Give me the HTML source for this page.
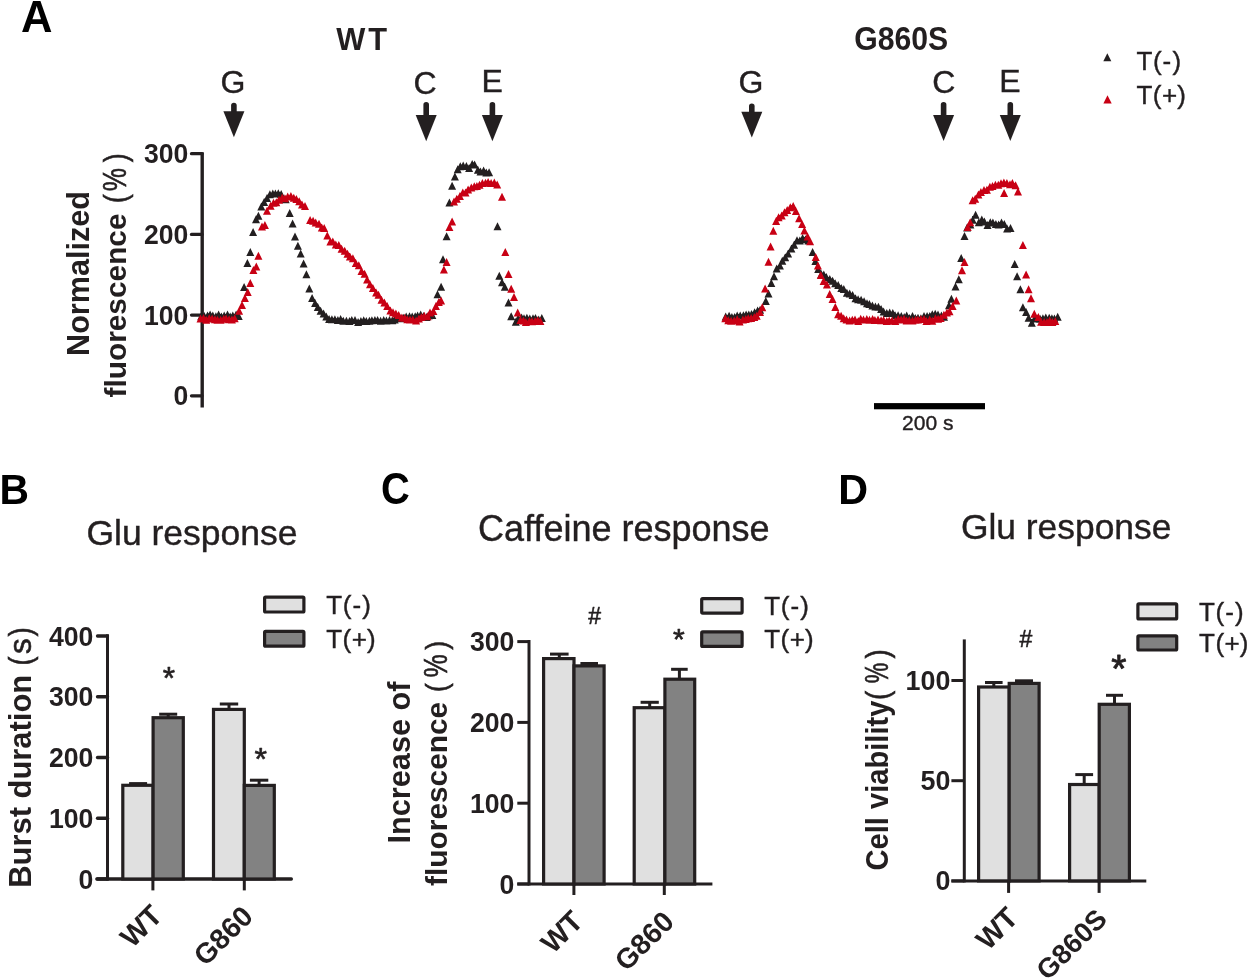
<!DOCTYPE html>
<html><head><meta charset="utf-8"><style>
html,body{margin:0;padding:0;background:#fff;}
svg{display:block;font-family:"Liberation Sans",sans-serif;will-change:transform;}
.r{stroke:#231f20;stroke-width:0.4px;}
</style></head><body>
<svg width="1250" height="980" viewBox="0 0 1250 980">
<rect width="1250" height="980" fill="#fff"/>
<text transform="translate(22.20,32.20) scale(1.000,1)" x="-1.09" y="0" font-size="43.6" font-weight="bold" fill="#000" >A</text>
<text transform="translate(336.20,49.90) scale(0.960,1)" x="-0.03" y="0" font-size="32.1" font-weight="bold" fill="#231f20" letter-spacing="3">WT</text>
<text transform="translate(855.50,50.40) scale(0.907,1)" x="-1.37" y="0" font-size="33.3" font-weight="bold" fill="#231f20" >G860S</text>
<text class="r" x="220.39" y="93.00" font-size="32" font-weight="normal" fill="#231f20" >G</text>
<path d="M231.10,112.20 L231.10,105.60 A2.80,2.80 0 0 1 236.70,105.60 L236.70,112.20 Z" fill="#231f20"/>
<path d="M223.40,111.20 L244.40,111.20 L233.90,137.30 Z" fill="#231f20"/>
<text class="r" x="413.48" y="93.60" font-size="32" font-weight="normal" fill="#231f20" >C</text>
<path d="M423.40,115.90 L423.40,104.80 A2.80,2.80 0 0 1 429.00,104.80 L429.00,115.90 Z" fill="#231f20"/>
<path d="M415.70,114.90 L436.70,114.90 L426.20,141.30 Z" fill="#231f20"/>
<text class="r" x="481.57" y="92.00" font-size="32" font-weight="normal" fill="#231f20" >E</text>
<path d="M489.60,115.90 L489.60,104.80 A2.80,2.80 0 0 1 495.20,104.80 L495.20,115.90 Z" fill="#231f20"/>
<path d="M481.90,114.90 L502.90,114.90 L492.40,141.30 Z" fill="#231f20"/>
<text class="r" x="738.39" y="93.00" font-size="32" font-weight="normal" fill="#231f20" >G</text>
<path d="M749.00,112.80 L749.00,106.30 A2.80,2.80 0 0 1 754.60,106.30 L754.60,112.80 Z" fill="#231f20"/>
<path d="M741.30,111.80 L762.30,111.80 L751.80,137.60 Z" fill="#231f20"/>
<text class="r" x="932.17" y="93.00" font-size="32" font-weight="normal" fill="#231f20" >C</text>
<path d="M940.80,115.90 L940.80,104.80 A2.80,2.80 0 0 1 946.40,104.80 L946.40,115.90 Z" fill="#231f20"/>
<path d="M933.10,114.90 L954.10,114.90 L943.60,141.00 Z" fill="#231f20"/>
<text class="r" x="999.27" y="92.00" font-size="32" font-weight="normal" fill="#231f20" >E</text>
<path d="M1007.50,115.90 L1007.50,104.80 A2.80,2.80 0 0 1 1013.10,104.80 L1013.10,115.90 Z" fill="#231f20"/>
<path d="M999.80,114.90 L1020.80,114.90 L1010.30,141.00 Z" fill="#231f20"/>
<path d="M1103.3,61.3h8l-4.0,-8.0z" fill="#231f20"/>
<path d="M1103.4,103.6h8.3l-4.2,-8.3z" fill="#c80014"/>
<text class="r" x="1136.42" y="69.80" font-size="26" font-weight="normal" fill="#231f20" dx="0 0.6 1.0 1.2">T(-)</text>
<text class="r" x="1136.42" y="103.80" font-size="26" font-weight="normal" fill="#231f20" dx="0 0.5 0.5 0">T(+)</text>
<line x1="202.2" y1="152.3" x2="202.2" y2="407.5" stroke="#231f20" stroke-width="3.4" stroke-linecap="butt"/>
<line x1="191.5" y1="395.8" x2="202" y2="395.8" stroke="#231f20" stroke-width="3.3" stroke-linecap="round"/>
<text transform="translate(187.20,405.30) scale(0.960,1)" x="1.14" y="0" font-size="27.7" font-weight="bold" fill="#231f20" text-anchor="end">0</text>
<line x1="191.5" y1="315.1" x2="202" y2="315.1" stroke="#231f20" stroke-width="3.3" stroke-linecap="round"/>
<text transform="translate(187.20,324.60) scale(0.960,1)" x="1.14" y="0" font-size="27.7" font-weight="bold" fill="#231f20" text-anchor="end">100</text>
<line x1="191.5" y1="234.4" x2="202" y2="234.4" stroke="#231f20" stroke-width="3.3" stroke-linecap="round"/>
<text transform="translate(187.20,243.90) scale(0.960,1)" x="1.14" y="0" font-size="27.7" font-weight="bold" fill="#231f20" text-anchor="end">200</text>
<line x1="191.5" y1="153.7" x2="202" y2="153.7" stroke="#231f20" stroke-width="3.3" stroke-linecap="round"/>
<text transform="translate(187.20,163.20) scale(0.960,1)" x="1.14" y="0" font-size="27.7" font-weight="bold" fill="#231f20" text-anchor="end">300</text>
<text transform="translate(88.80,273.50) rotate(-90)" x="-82.48" y="0" font-size="30.6" font-weight="bold" fill="#231f20">Normalized</text>
<text transform="translate(126.00,397.00) rotate(-90) scale(0.995,1)" x="-0.51" y="0" font-size="30.0" font-weight="bold" fill="#231f20">fluorescence</text>
<text transform="translate(126.00,201.30) rotate(-90) scale(0.860,1)" x="-1.90" y="0" font-size="30.6" font-weight="normal" fill="#231f20" stroke="#231f20" stroke-width="0.6">(</text>
<text transform="translate(126.00,190.20) rotate(-90) scale(0.770,1)" x="-1.21" y="0" font-size="34" font-weight="normal" fill="#231f20" stroke="#231f20" stroke-width="0.6">%</text>
<text transform="translate(126.00,162.10) rotate(-90) scale(0.880,1)" x="-0.18" y="0" font-size="30.6" font-weight="normal" fill="#231f20" stroke="#231f20" stroke-width="0.6">)</text>
<rect x="874" y="403.1" width="111" height="6.2" fill="#000"/>
<text class="r" x="902.04" y="429.60" font-size="21" font-weight="normal" fill="#231f20" >200 s</text>
<path d="M197.2,320.2h8l-4.0,-8.0zM200.3,320.0h8l-4.0,-8.0zM203.5,319.6h8l-4.0,-8.0zM206.1,318.5h8l-4.0,-8.0zM208.8,319.5h8l-4.0,-8.0zM211.9,320.2h8l-4.0,-8.0zM214.6,318.5h8l-4.0,-8.0zM217.4,320.5h8l-4.0,-8.0zM220.2,319.4h8l-4.0,-8.0zM223.5,318.4h8l-4.0,-8.0zM226.2,320.6h8l-4.0,-8.0zM228.8,319.6h8l-4.0,-8.0zM232.1,318.6h8l-4.0,-8.0zM234.7,320.1h8l-4.0,-8.0zM240.1,291.1h8l-4.0,-8.0zM243.4,266.9h8l-4.0,-8.0zM246.3,256.1h8l-4.0,-8.0zM249.1,236.1h8l-4.0,-8.0zM252.0,223.3h8l-4.0,-8.0zM254.4,219.7h8l-4.0,-8.0zM257.3,210.4h8l-4.0,-8.0zM260.1,206.1h8l-4.0,-8.0zM263.0,201.9h8l-4.0,-8.0zM265.9,198.3h8l-4.0,-8.0zM268.8,197.5h8l-4.0,-8.0zM271.4,197.4h8l-4.0,-8.0zM274.3,197.2h8l-4.0,-8.0zM277.2,197.9h8l-4.0,-8.0zM281.7,203.3h8l-4.0,-8.0zM285.7,216.9h8l-4.0,-8.0zM288.6,227.6h8l-4.0,-8.0zM291.0,240.4h8l-4.0,-8.0zM293.9,249.7h8l-4.0,-8.0zM296.7,257.6h8l-4.0,-8.0zM299.6,267.6h8l-4.0,-8.0zM302.4,278.3h8l-4.0,-8.0zM305.3,292.6h8l-4.0,-8.0zM308.1,301.9h8l-4.0,-8.0zM311.1,307.0h8l-4.0,-8.0zM313.8,311.0h8l-4.0,-8.0zM316.6,314.8h8l-4.0,-8.0zM319.6,317.5h8l-4.0,-8.0zM322.3,320.6h8l-4.0,-8.0zM325.1,323.0h8l-4.0,-8.0zM327.9,323.3h8l-4.0,-8.0zM330.9,323.3h8l-4.0,-8.0zM333.9,324.1h8l-4.0,-8.0zM336.6,322.9h8l-4.0,-8.0zM339.3,324.8h8l-4.0,-8.0zM342.4,324.8h8l-4.0,-8.0zM345.5,324.9h8l-4.0,-8.0zM347.8,324.1h8l-4.0,-8.0zM351.0,324.1h8l-4.0,-8.0zM354.1,325.9h8l-4.0,-8.0zM356.9,324.9h8l-4.0,-8.0zM359.7,324.2h8l-4.0,-8.0zM362.3,324.9h8l-4.0,-8.0zM365.4,324.8h8l-4.0,-8.0zM367.9,324.3h8l-4.0,-8.0zM370.9,324.0h8l-4.0,-8.0zM373.6,324.1h8l-4.0,-8.0zM376.6,324.8h8l-4.0,-8.0zM379.7,324.0h8l-4.0,-8.0zM382.4,324.4h8l-4.0,-8.0zM385.5,324.0h8l-4.0,-8.0zM388.3,324.2h8l-4.0,-8.0zM390.7,323.6h8l-4.0,-8.0zM393.7,322.2h8l-4.0,-8.0zM396.9,322.3h8l-4.0,-8.0zM399.3,321.8h8l-4.0,-8.0zM402.2,320.6h8l-4.0,-8.0zM405.5,320.3h8l-4.0,-8.0zM408.2,320.6h8l-4.0,-8.0zM411.2,320.3h8l-4.0,-8.0zM413.6,319.4h8l-4.0,-8.0zM416.7,318.6h8l-4.0,-8.0zM419.6,320.0h8l-4.0,-8.0zM422.6,320.9h8l-4.0,-8.0zM425.1,319.2h8l-4.0,-8.0zM428.3,319.1h8l-4.0,-8.0zM433.5,298.2h8l-4.0,-8.0zM437.1,290.8h8l-4.0,-8.0zM439.0,263.3h8l-4.0,-8.0zM442.6,240.3h8l-4.0,-8.0zM445.4,206.4h8l-4.0,-8.0zM448.1,189.8h8l-4.0,-8.0zM450.9,180.6h8l-4.0,-8.0zM453.7,173.3h8l-4.0,-8.0zM456.3,170.2h8l-4.0,-8.0zM459.2,169.5h8l-4.0,-8.0zM462.4,170.0h8l-4.0,-8.0zM465.1,172.0h8l-4.0,-8.0zM468.2,167.9h8l-4.0,-8.0zM470.6,168.6h8l-4.0,-8.0zM473.9,173.7h8l-4.0,-8.0zM476.5,175.6h8l-4.0,-8.0zM479.6,174.6h8l-4.0,-8.0zM482.3,176.6h8l-4.0,-8.0zM485.1,176.3h8l-4.0,-8.0zM493.5,230.2h8l-4.0,-8.0zM495.3,279.8h8l-4.0,-8.0zM498.0,286.3h8l-4.0,-8.0zM500.8,290.8h8l-4.0,-8.0zM504.5,306.5h8l-4.0,-8.0zM507.2,320.2h8l-4.0,-8.0zM511.8,325.7h8l-4.0,-8.0zM514.3,322.0h8l-4.0,-8.0zM517.6,321.4h8l-4.0,-8.0zM520.0,322.2h8l-4.0,-8.0zM522.9,321.7h8l-4.0,-8.0zM525.8,322.6h8l-4.0,-8.0zM529.0,322.3h8l-4.0,-8.0zM531.5,322.1h8l-4.0,-8.0zM534.7,323.6h8l-4.0,-8.0zM537.8,321.9h8l-4.0,-8.0z" fill="#231f20"/>
<path d="M721.7,320.6h8l-4.0,-8.0zM725.1,319.8h8l-4.0,-8.0zM727.9,320.9h8l-4.0,-8.0zM730.6,321.0h8l-4.0,-8.0zM733.2,319.6h8l-4.0,-8.0zM736.2,319.4h8l-4.0,-8.0zM739.4,319.3h8l-4.0,-8.0zM742.1,318.6h8l-4.0,-8.0zM744.8,318.6h8l-4.0,-8.0zM747.5,317.9h8l-4.0,-8.0zM750.6,316.3h8l-4.0,-8.0zM753.6,314.6h8l-4.0,-8.0zM756.1,313.7h8l-4.0,-8.0zM761.8,305.0h8l-4.0,-8.0zM764.5,297.4h8l-4.0,-8.0zM767.3,287.1h8l-4.0,-8.0zM770.0,280.2h8l-4.0,-8.0zM772.7,272.6h8l-4.0,-8.0zM775.9,269.5h8l-4.0,-8.0zM778.3,264.7h8l-4.0,-8.0zM781.2,261.3h8l-4.0,-8.0zM784.1,257.5h8l-4.0,-8.0zM787.4,252.4h8l-4.0,-8.0zM790.1,248.8h8l-4.0,-8.0zM793.0,244.2h8l-4.0,-8.0zM795.8,244.5h8l-4.0,-8.0zM798.6,241.9h8l-4.0,-8.0zM801.5,243.3h8l-4.0,-8.0zM804.4,244.6h8l-4.0,-8.0zM808.6,256.0h8l-4.0,-8.0zM811.4,265.0h8l-4.0,-8.0zM814.2,273.0h8l-4.0,-8.0zM817.3,278.1h8l-4.0,-8.0zM819.8,278.4h8l-4.0,-8.0zM822.4,281.1h8l-4.0,-8.0zM825.8,283.1h8l-4.0,-8.0zM828.6,284.8h8l-4.0,-8.0zM831.2,287.3h8l-4.0,-8.0zM834.2,289.0h8l-4.0,-8.0zM837.3,291.9h8l-4.0,-8.0zM839.8,293.0h8l-4.0,-8.0zM842.9,296.7h8l-4.0,-8.0zM845.7,297.4h8l-4.0,-8.0zM848.6,299.1h8l-4.0,-8.0zM851.5,302.2h8l-4.0,-8.0zM854.1,303.3h8l-4.0,-8.0zM857.1,303.8h8l-4.0,-8.0zM860.1,305.3h8l-4.0,-8.0zM863.0,307.3h8l-4.0,-8.0zM865.4,308.0h8l-4.0,-8.0zM868.4,309.6h8l-4.0,-8.0zM871.4,310.4h8l-4.0,-8.0zM874.4,310.8h8l-4.0,-8.0zM877.1,312.9h8l-4.0,-8.0zM879.6,315.4h8l-4.0,-8.0zM882.8,317.0h8l-4.0,-8.0zM885.7,316.5h8l-4.0,-8.0zM888.8,316.9h8l-4.0,-8.0zM891.1,319.3h8l-4.0,-8.0zM894.1,319.3h8l-4.0,-8.0zM897.3,320.0h8l-4.0,-8.0zM900.2,320.9h8l-4.0,-8.0zM902.7,319.6h8l-4.0,-8.0zM905.5,321.9h8l-4.0,-8.0zM908.5,320.1h8l-4.0,-8.0zM911.3,322.0h8l-4.0,-8.0zM914.0,321.8h8l-4.0,-8.0zM916.9,322.3h8l-4.0,-8.0zM920.0,320.0h8l-4.0,-8.0zM923.1,320.1h8l-4.0,-8.0zM925.8,319.9h8l-4.0,-8.0zM928.3,318.3h8l-4.0,-8.0zM931.2,317.8h8l-4.0,-8.0zM934.0,318.5h8l-4.0,-8.0zM937.4,319.6h8l-4.0,-8.0zM940.0,320.7h8l-4.0,-8.0zM945.0,309.3h8l-4.0,-8.0zM947.4,302.8h8l-4.0,-8.0zM951.5,290.6h8l-4.0,-8.0zM954.8,283.2h8l-4.0,-8.0zM957.2,262.0h8l-4.0,-8.0zM960.5,240.0h8l-4.0,-8.0zM963.1,231.6h8l-4.0,-8.0zM966.4,228.5h8l-4.0,-8.0zM968.7,223.8h8l-4.0,-8.0zM971.6,218.7h8l-4.0,-8.0zM974.8,226.3h8l-4.0,-8.0zM977.8,223.4h8l-4.0,-8.0zM980.4,225.4h8l-4.0,-8.0zM983.5,228.9h8l-4.0,-8.0zM986.3,226.3h8l-4.0,-8.0zM988.9,226.6h8l-4.0,-8.0zM991.9,228.1h8l-4.0,-8.0zM994.6,228.4h8l-4.0,-8.0zM997.5,226.5h8l-4.0,-8.0zM1000.3,227.9h8l-4.0,-8.0zM1003.1,232.5h8l-4.0,-8.0zM1006.5,232.1h8l-4.0,-8.0zM1010.7,267.9h8l-4.0,-8.0zM1013.1,280.2h8l-4.0,-8.0zM1016.4,293.2h8l-4.0,-8.0zM1018.9,311.2h8l-4.0,-8.0zM1022.1,316.1h8l-4.0,-8.0zM1024.6,321.8h8l-4.0,-8.0zM1027.8,326.7h8l-4.0,-8.0zM1030.8,322.0h8l-4.0,-8.0zM1033.2,322.6h8l-4.0,-8.0zM1036.1,322.7h8l-4.0,-8.0zM1038.9,322.2h8l-4.0,-8.0zM1041.8,321.4h8l-4.0,-8.0zM1045.2,321.7h8l-4.0,-8.0zM1047.9,322.2h8l-4.0,-8.0zM1050.4,322.4h8l-4.0,-8.0zM1053.7,320.7h8l-4.0,-8.0z" fill="#231f20"/>
<path d="M196.5,322.5h8l-4.0,-8.0zM199.5,321.9h8l-4.0,-8.0zM202.2,323.8h8l-4.0,-8.0zM205.2,322.2h8l-4.0,-8.0zM208.1,322.5h8l-4.0,-8.0zM211.0,323.2h8l-4.0,-8.0zM213.5,323.8h8l-4.0,-8.0zM216.7,323.8h8l-4.0,-8.0zM219.7,322.7h8l-4.0,-8.0zM222.1,322.5h8l-4.0,-8.0zM225.1,323.2h8l-4.0,-8.0zM227.9,323.4h8l-4.0,-8.0zM230.7,322.3h8l-4.0,-8.0zM235.1,314.7h8l-4.0,-8.0zM238.0,309.0h8l-4.0,-8.0zM240.9,301.9h8l-4.0,-8.0zM243.7,296.1h8l-4.0,-8.0zM246.3,286.9h8l-4.0,-8.0zM249.4,274.0h8l-4.0,-8.0zM252.3,270.4h8l-4.0,-8.0zM254.4,259.7h8l-4.0,-8.0zM258.0,230.4h8l-4.0,-8.0zM260.9,229.0h8l-4.0,-8.0zM263.0,214.7h8l-4.0,-8.0zM266.6,209.7h8l-4.0,-8.0zM269.5,206.7h8l-4.0,-8.0zM272.3,206.2h8l-4.0,-8.0zM275.0,203.8h8l-4.0,-8.0zM278.2,201.5h8l-4.0,-8.0zM280.9,202.2h8l-4.0,-8.0zM283.7,200.5h8l-4.0,-8.0zM286.9,200.1h8l-4.0,-8.0zM289.8,201.7h8l-4.0,-8.0zM292.4,202.9h8l-4.0,-8.0zM295.2,205.3h8l-4.0,-8.0zM298.0,208.6h8l-4.0,-8.0zM301.0,210.1h8l-4.0,-8.0zM306.1,223.9h8l-4.0,-8.0zM309.1,224.8h8l-4.0,-8.0zM311.7,226.4h8l-4.0,-8.0zM315.0,227.7h8l-4.0,-8.0zM317.8,231.4h8l-4.0,-8.0zM320.2,232.1h8l-4.0,-8.0zM323.3,239.4h8l-4.0,-8.0zM326.4,245.5h8l-4.0,-8.0zM328.8,245.5h8l-4.0,-8.0zM331.8,248.4h8l-4.0,-8.0zM334.8,249.1h8l-4.0,-8.0zM337.6,252.8h8l-4.0,-8.0zM340.7,254.8h8l-4.0,-8.0zM343.5,257.7h8l-4.0,-8.0zM345.9,260.4h8l-4.0,-8.0zM348.9,262.2h8l-4.0,-8.0zM351.8,266.9h8l-4.0,-8.0zM354.8,269.3h8l-4.0,-8.0zM357.5,274.9h8l-4.0,-8.0zM360.6,277.7h8l-4.0,-8.0zM363.1,283.5h8l-4.0,-8.0zM366.0,288.3h8l-4.0,-8.0zM368.9,292.0h8l-4.0,-8.0zM372.1,296.4h8l-4.0,-8.0zM374.5,298.7h8l-4.0,-8.0zM377.5,303.7h8l-4.0,-8.0zM380.4,306.5h8l-4.0,-8.0zM383.2,310.0h8l-4.0,-8.0zM386.4,314.5h8l-4.0,-8.0zM389.0,316.2h8l-4.0,-8.0zM391.9,317.5h8l-4.0,-8.0zM394.7,319.1h8l-4.0,-8.0zM397.9,321.5h8l-4.0,-8.0zM400.7,321.7h8l-4.0,-8.0zM403.3,323.3h8l-4.0,-8.0zM406.0,323.5h8l-4.0,-8.0zM408.8,323.4h8l-4.0,-8.0zM412.1,324.6h8l-4.0,-8.0zM414.9,322.6h8l-4.0,-8.0zM417.4,321.1h8l-4.0,-8.0zM420.3,319.8h8l-4.0,-8.0zM423.6,320.2h8l-4.0,-8.0zM426.0,316.4h8l-4.0,-8.0zM429.4,314.9h8l-4.0,-8.0zM431.9,310.1h8l-4.0,-8.0zM434.8,306.0h8l-4.0,-8.0zM437.1,304.6h8l-4.0,-8.0zM439.9,273.4h8l-4.0,-8.0zM442.6,266.0h8l-4.0,-8.0zM445.4,231.1h8l-4.0,-8.0zM448.1,225.6h8l-4.0,-8.0zM450.0,205.4h8l-4.0,-8.0zM452.8,202.7h8l-4.0,-8.0zM455.9,199.9h8l-4.0,-8.0zM458.8,196.5h8l-4.0,-8.0zM461.5,196.5h8l-4.0,-8.0zM464.1,193.4h8l-4.0,-8.0zM467.3,191.4h8l-4.0,-8.0zM470.3,190.3h8l-4.0,-8.0zM472.9,189.9h8l-4.0,-8.0zM475.5,188.7h8l-4.0,-8.0zM478.4,187.1h8l-4.0,-8.0zM481.5,186.8h8l-4.0,-8.0zM484.1,185.9h8l-4.0,-8.0zM487.1,187.0h8l-4.0,-8.0zM490.3,186.5h8l-4.0,-8.0zM493.2,188.6h8l-4.0,-8.0zM498.0,200.8h8l-4.0,-8.0zM501.3,256.0h8l-4.0,-8.0zM504.5,278.0h8l-4.0,-8.0zM507.2,292.7h8l-4.0,-8.0zM510.0,301.0h8l-4.0,-8.0zM513.7,316.6h8l-4.0,-8.0zM516.4,323.9h8l-4.0,-8.0zM519.4,324.4h8l-4.0,-8.0zM521.9,326.0h8l-4.0,-8.0zM525.4,325.0h8l-4.0,-8.0zM528.0,325.3h8l-4.0,-8.0zM531.1,324.9h8l-4.0,-8.0zM533.7,324.3h8l-4.0,-8.0zM536.4,325.0h8l-4.0,-8.0z" fill="#c80014"/>
<path d="M721.3,322.3h8l-4.0,-8.0zM724.3,324.2h8l-4.0,-8.0zM727.1,324.7h8l-4.0,-8.0zM730.2,324.4h8l-4.0,-8.0zM733.2,323.2h8l-4.0,-8.0zM735.6,325.4h8l-4.0,-8.0zM738.9,323.6h8l-4.0,-8.0zM741.7,322.9h8l-4.0,-8.0zM744.2,322.2h8l-4.0,-8.0zM747.1,321.9h8l-4.0,-8.0zM750.3,321.1h8l-4.0,-8.0zM752.7,319.7h8l-4.0,-8.0zM756.0,316.0h8l-4.0,-8.0zM758.3,311.2h8l-4.0,-8.0zM761.1,292.6h8l-4.0,-8.0zM764.5,265.7h8l-4.0,-8.0zM766.6,250.6h8l-4.0,-8.0zM769.3,234.8h8l-4.0,-8.0zM772.1,225.1h8l-4.0,-8.0zM774.6,221.2h8l-4.0,-8.0zM777.7,219.5h8l-4.0,-8.0zM780.5,216.3h8l-4.0,-8.0zM783.2,214.1h8l-4.0,-8.0zM786.3,211.3h8l-4.0,-8.0zM789.2,210.0h8l-4.0,-8.0zM791.9,214.9h8l-4.0,-8.0zM795.1,222.2h8l-4.0,-8.0zM798.1,227.9h8l-4.0,-8.0zM800.4,234.6h8l-4.0,-8.0zM803.6,240.5h8l-4.0,-8.0zM806.1,245.2h8l-4.0,-8.0zM811.7,261.0h8l-4.0,-8.0zM813.9,269.4h8l-4.0,-8.0zM816.8,279.0h8l-4.0,-8.0zM819.6,285.1h8l-4.0,-8.0zM822.9,288.5h8l-4.0,-8.0zM825.7,298.0h8l-4.0,-8.0zM828.5,303.1h8l-4.0,-8.0zM831.3,310.9h8l-4.0,-8.0zM834.1,318.2h8l-4.0,-8.0zM837.1,319.8h8l-4.0,-8.0zM839.7,322.2h8l-4.0,-8.0zM842.5,323.6h8l-4.0,-8.0zM845.6,324.4h8l-4.0,-8.0zM848.3,323.8h8l-4.0,-8.0zM851.0,323.4h8l-4.0,-8.0zM854.2,324.9h8l-4.0,-8.0zM856.7,322.7h8l-4.0,-8.0zM859.5,323.6h8l-4.0,-8.0zM862.8,323.1h8l-4.0,-8.0zM865.5,323.8h8l-4.0,-8.0zM868.6,323.0h8l-4.0,-8.0zM870.9,323.9h8l-4.0,-8.0zM874.0,323.4h8l-4.0,-8.0zM877.1,324.3h8l-4.0,-8.0zM879.6,324.0h8l-4.0,-8.0zM882.8,324.9h8l-4.0,-8.0zM885.2,324.6h8l-4.0,-8.0zM888.1,324.4h8l-4.0,-8.0zM891.3,325.0h8l-4.0,-8.0zM894.2,322.9h8l-4.0,-8.0zM897.1,323.4h8l-4.0,-8.0zM900.0,322.8h8l-4.0,-8.0zM902.6,324.4h8l-4.0,-8.0zM905.3,324.3h8l-4.0,-8.0zM908.5,324.6h8l-4.0,-8.0zM911.5,323.8h8l-4.0,-8.0zM913.9,323.5h8l-4.0,-8.0zM916.9,323.0h8l-4.0,-8.0zM920.0,323.0h8l-4.0,-8.0zM922.4,325.1h8l-4.0,-8.0zM925.7,323.5h8l-4.0,-8.0zM928.3,324.7h8l-4.0,-8.0zM931.4,322.3h8l-4.0,-8.0zM934.1,322.7h8l-4.0,-8.0zM936.7,322.0h8l-4.0,-8.0zM939.9,318.8h8l-4.0,-8.0zM942.9,316.4h8l-4.0,-8.0zM945.5,315.3h8l-4.0,-8.0zM948.6,310.0h8l-4.0,-8.0zM952.3,304.4h8l-4.0,-8.0zM958.0,274.3h8l-4.0,-8.0zM960.5,266.1h8l-4.0,-8.0zM963.7,231.1h8l-4.0,-8.0zM966.2,226.2h8l-4.0,-8.0zM968.6,204.2h8l-4.0,-8.0zM971.2,202.7h8l-4.0,-8.0zM974.4,198.4h8l-4.0,-8.0zM976.9,195.9h8l-4.0,-8.0zM980.0,194.1h8l-4.0,-8.0zM982.9,193.8h8l-4.0,-8.0zM985.9,190.7h8l-4.0,-8.0zM988.5,189.9h8l-4.0,-8.0zM991.4,188.8h8l-4.0,-8.0zM994.3,188.7h8l-4.0,-8.0zM997.0,187.3h8l-4.0,-8.0zM999.9,186.5h8l-4.0,-8.0zM1002.9,186.9h8l-4.0,-8.0zM1006.0,188.2h8l-4.0,-8.0zM1008.4,187.1h8l-4.0,-8.0zM1011.6,189.3h8l-4.0,-8.0zM1014.0,195.5h8l-4.0,-8.0zM1000.1,196.9h8l-4.0,-8.0zM1018.9,249.1h8l-4.0,-8.0zM1022.1,278.5h8l-4.0,-8.0zM1024.6,293.2h8l-4.0,-8.0zM1027.0,302.2h8l-4.0,-8.0zM1030.3,317.7h8l-4.0,-8.0zM1034.4,321.0h8l-4.0,-8.0zM1037.1,325.7h8l-4.0,-8.0zM1040.2,326.0h8l-4.0,-8.0zM1043.0,326.0h8l-4.0,-8.0zM1045.7,324.6h8l-4.0,-8.0zM1048.4,325.9h8l-4.0,-8.0zM1051.3,325.1h8l-4.0,-8.0z" fill="#c80014"/>
<text transform="translate(2.20,503.90) scale(0.950,1)" x="-2.88" y="0" font-size="43" font-weight="bold" fill="#000" >B</text>
<text class="r" x="86.41" y="544.50" font-size="35.5" font-weight="normal" fill="#231f20" >Glu response</text>
<line x1="107.5" y1="634.3" x2="107.5" y2="880.5" stroke="#231f20" stroke-width="3" stroke-linecap="butt"/>
<line x1="96.8" y1="879.0" x2="291.4" y2="879.0" stroke="#231f20" stroke-width="3.3" stroke-linecap="round"/>
<line x1="97.5" y1="879.0" x2="107.5" y2="879.0" stroke="#231f20" stroke-width="3.3" stroke-linecap="round"/>
<text transform="translate(92.30,888.50) scale(0.960,1)" x="1.14" y="0" font-size="27.8" font-weight="bold" fill="#231f20" text-anchor="end">0</text>
<line x1="97.5" y1="818.25" x2="107.5" y2="818.25" stroke="#231f20" stroke-width="3.3" stroke-linecap="round"/>
<text transform="translate(92.30,827.75) scale(0.960,1)" x="1.14" y="0" font-size="27.8" font-weight="bold" fill="#231f20" text-anchor="end">100</text>
<line x1="97.5" y1="757.5" x2="107.5" y2="757.5" stroke="#231f20" stroke-width="3.3" stroke-linecap="round"/>
<text transform="translate(92.30,767.00) scale(0.960,1)" x="1.14" y="0" font-size="27.8" font-weight="bold" fill="#231f20" text-anchor="end">200</text>
<line x1="97.5" y1="696.75" x2="107.5" y2="696.75" stroke="#231f20" stroke-width="3.3" stroke-linecap="round"/>
<text transform="translate(92.30,706.25) scale(0.960,1)" x="1.14" y="0" font-size="27.8" font-weight="bold" fill="#231f20" text-anchor="end">300</text>
<line x1="97.5" y1="636.0" x2="107.5" y2="636.0" stroke="#231f20" stroke-width="3.3" stroke-linecap="round"/>
<text transform="translate(92.30,645.50) scale(0.960,1)" x="1.14" y="0" font-size="27.8" font-weight="bold" fill="#231f20" text-anchor="end">400</text>
<line x1="152.9" y1="879.0" x2="152.9" y2="890.4" stroke="#231f20" stroke-width="3" stroke-linecap="butt"/>
<line x1="244.3" y1="879.0" x2="244.3" y2="890.4" stroke="#231f20" stroke-width="3" stroke-linecap="butt"/>
<rect x="122.80" y="785.30" width="30.30" height="93.70" fill="#e0e0e0" stroke="#231f20" stroke-width="3.2"/>
<rect x="153.10" y="717.70" width="30.20" height="161.30" fill="#828282" stroke="#231f20" stroke-width="3.2"/>
<rect x="213.50" y="709.40" width="30.80" height="169.60" fill="#e0e0e0" stroke="#231f20" stroke-width="3.2"/>
<rect x="244.30" y="785.40" width="30.00" height="93.60" fill="#828282" stroke="#231f20" stroke-width="3.2"/>
<line x1="138.1" y1="784.7" x2="138.1" y2="783.6" stroke="#231f20" stroke-width="3" stroke-linecap="butt"/>
<line x1="129.1" y1="783.6" x2="147.1" y2="783.6" stroke="#231f20" stroke-width="3" stroke-linecap="butt"/>
<line x1="168.2" y1="717.1" x2="168.2" y2="714.2" stroke="#231f20" stroke-width="3" stroke-linecap="butt"/>
<line x1="159.2" y1="714.2" x2="177.2" y2="714.2" stroke="#231f20" stroke-width="3" stroke-linecap="butt"/>
<line x1="229" y1="708.8" x2="229" y2="704.0" stroke="#231f20" stroke-width="3" stroke-linecap="butt"/>
<line x1="219.8" y1="704.0" x2="238.2" y2="704.0" stroke="#231f20" stroke-width="3" stroke-linecap="butt"/>
<line x1="259.1" y1="784.8" x2="259.1" y2="780.2" stroke="#231f20" stroke-width="3" stroke-linecap="butt"/>
<line x1="249.90000000000003" y1="780.2" x2="268.3" y2="780.2" stroke="#231f20" stroke-width="3" stroke-linecap="butt"/>
<rect x="264.60" y="597.20" width="39.30" height="14.80" fill="#e0e0e0" stroke="#231f20" stroke-width="3.2" rx="1"/>
<rect x="264.60" y="631.40" width="39.30" height="14.80" fill="#828282" stroke="#231f20" stroke-width="3.2" rx="1"/>
<text class="r" x="326.22" y="613.60" font-size="26" font-weight="normal" fill="#231f20" dx="0 0.6 1.0 1.2">T(-)</text>
<text class="r" x="326.22" y="647.80" font-size="26" font-weight="normal" fill="#231f20" dx="0 0.5 0.5 0">T(+)</text>
<text transform="translate(30.50,885.70) rotate(-90) scale(0.982,1)" x="-2.11" y="0" font-size="31.5" font-weight="bold" fill="#231f20">Burst duration</text>
<text transform="translate(30.50,663.90) rotate(-90) scale(0.860,1)" x="-1.95" y="0" font-size="31.5" font-weight="normal" fill="#231f20" stroke="#231f20" stroke-width="0.6">(</text>
<text transform="translate(30.50,653.20) rotate(-90) scale(1.000,1)" x="-0.88" y="0" font-size="31.5" font-weight="normal" fill="#231f20" stroke="#231f20" stroke-width="0.6">s</text>
<text transform="translate(30.50,636.30) rotate(-90) scale(0.880,1)" x="-0.18" y="0" font-size="31.5" font-weight="normal" fill="#231f20" stroke="#231f20" stroke-width="0.6">)</text>
<text transform="translate(163.80,917.41) rotate(-45)" x="-44.77" y="0" font-size="29" font-weight="bold" fill="#231f20">WT</text>
<text transform="translate(253.90,918.77) rotate(-45)" x="-68.55" y="0" font-size="28.5" font-weight="bold" fill="#231f20">G860</text>
<text transform="translate(382.70,504.40) scale(0.910,1)" x="-1.80" y="0" font-size="43.8" font-weight="bold" fill="#000" >C</text>
<text class="r" x="478.07" y="540.50" font-size="36" font-weight="normal" fill="#231f20" >Caffeine response</text>
<line x1="529" y1="640" x2="529" y2="885.5" stroke="#231f20" stroke-width="3" stroke-linecap="butt"/>
<line x1="517.3" y1="884" x2="712.4" y2="884" stroke="#231f20" stroke-width="3" stroke-linecap="butt"/>
<line x1="517.3" y1="884.0" x2="529" y2="884.0" stroke="#231f20" stroke-width="3" stroke-linecap="butt"/>
<text transform="translate(513.30,893.50) scale(0.960,1)" x="1.14" y="0" font-size="27.8" font-weight="bold" fill="#231f20" text-anchor="end">0</text>
<line x1="517.3" y1="803.2" x2="529" y2="803.2" stroke="#231f20" stroke-width="3" stroke-linecap="butt"/>
<text transform="translate(513.30,812.70) scale(0.960,1)" x="1.14" y="0" font-size="27.8" font-weight="bold" fill="#231f20" text-anchor="end">100</text>
<line x1="517.3" y1="722.4" x2="529" y2="722.4" stroke="#231f20" stroke-width="3" stroke-linecap="butt"/>
<text transform="translate(513.30,731.90) scale(0.960,1)" x="1.14" y="0" font-size="27.8" font-weight="bold" fill="#231f20" text-anchor="end">200</text>
<line x1="517.3" y1="641.6" x2="529" y2="641.6" stroke="#231f20" stroke-width="3" stroke-linecap="butt"/>
<text transform="translate(513.30,651.10) scale(0.960,1)" x="1.14" y="0" font-size="27.8" font-weight="bold" fill="#231f20" text-anchor="end">300</text>
<line x1="573.9" y1="884" x2="573.9" y2="895" stroke="#231f20" stroke-width="3" stroke-linecap="butt"/>
<line x1="664.3" y1="884" x2="664.3" y2="895" stroke="#231f20" stroke-width="3" stroke-linecap="butt"/>
<rect x="543.60" y="658.60" width="30.40" height="225.40" fill="#e0e0e0" stroke="#231f20" stroke-width="3.2"/>
<rect x="574.00" y="665.90" width="30.10" height="218.10" fill="#828282" stroke="#231f20" stroke-width="3.2"/>
<rect x="634.20" y="707.70" width="30.70" height="176.30" fill="#e0e0e0" stroke="#231f20" stroke-width="3.2"/>
<rect x="664.90" y="679.20" width="29.80" height="204.80" fill="#828282" stroke="#231f20" stroke-width="3.2"/>
<line x1="559.3" y1="658.0" x2="559.3" y2="654.1" stroke="#231f20" stroke-width="3" stroke-linecap="butt"/>
<line x1="550.0" y1="654.1" x2="568.5999999999999" y2="654.1" stroke="#231f20" stroke-width="3" stroke-linecap="butt"/>
<line x1="589.2" y1="665.3" x2="589.2" y2="663.5" stroke="#231f20" stroke-width="3" stroke-linecap="butt"/>
<line x1="580.4000000000001" y1="663.5" x2="598.0" y2="663.5" stroke="#231f20" stroke-width="3" stroke-linecap="butt"/>
<line x1="649.7" y1="707.1" x2="649.7" y2="702.3" stroke="#231f20" stroke-width="3" stroke-linecap="butt"/>
<line x1="640.6" y1="702.3" x2="658.8000000000001" y2="702.3" stroke="#231f20" stroke-width="3" stroke-linecap="butt"/>
<line x1="679.4" y1="678.6" x2="679.4" y2="669.3" stroke="#231f20" stroke-width="3" stroke-linecap="butt"/>
<line x1="671.1" y1="669.3" x2="687.6999999999999" y2="669.3" stroke="#231f20" stroke-width="3" stroke-linecap="butt"/>
<rect x="701.70" y="598.60" width="40.40" height="14.50" fill="#e0e0e0" stroke="#231f20" stroke-width="3.2" rx="1"/>
<rect x="701.70" y="631.90" width="40.40" height="14.50" fill="#828282" stroke="#231f20" stroke-width="3.2" rx="1"/>
<text class="r" x="764.22" y="615.10" font-size="26" font-weight="normal" fill="#231f20" dx="0 0.6 1.0 1.2">T(-)</text>
<text class="r" x="764.22" y="648.00" font-size="26" font-weight="normal" fill="#231f20" dx="0 0.5 0.5 0">T(+)</text>
<text transform="translate(410.00,761.40) rotate(-90)" x="-82.11" y="0" font-size="30.7" font-weight="bold" fill="#231f20">Increase of</text>
<text transform="translate(446.80,885.40) rotate(-90) scale(0.982,1)" x="-0.52" y="0" font-size="30.4" font-weight="bold" fill="#231f20">fluorescence</text>
<text transform="translate(446.80,690.40) rotate(-90) scale(0.860,1)" x="-1.89" y="0" font-size="30.4" font-weight="normal" fill="#231f20" stroke="#231f20" stroke-width="0.6">(</text>
<text transform="translate(446.80,676.60) rotate(-90) scale(0.770,1)" x="-1.21" y="0" font-size="34" font-weight="normal" fill="#231f20" stroke="#231f20" stroke-width="0.6">%</text>
<text transform="translate(446.80,649.60) rotate(-90) scale(0.880,1)" x="-0.18" y="0" font-size="30.4" font-weight="normal" fill="#231f20" stroke="#231f20" stroke-width="0.6">)</text>
<text transform="translate(584.60,923.21) rotate(-45)" x="-44.77" y="0" font-size="29" font-weight="bold" fill="#231f20">WT</text>
<text transform="translate(674.90,924.07) rotate(-45)" x="-68.55" y="0" font-size="28.5" font-weight="bold" fill="#231f20">G860</text>
<text transform="translate(840.90,503.90) scale(0.955,1)" x="-2.90" y="0" font-size="43.3" font-weight="bold" fill="#000" >D</text>
<text class="r" x="960.92" y="538.90" font-size="35.4" font-weight="normal" fill="#231f20" >Glu response</text>
<line x1="964.3" y1="639.4" x2="964.3" y2="882.4" stroke="#231f20" stroke-width="3" stroke-linecap="butt"/>
<line x1="951.4" y1="880.9" x2="1146.3" y2="880.9" stroke="#231f20" stroke-width="3" stroke-linecap="butt"/>
<line x1="951.4" y1="880.9" x2="964.3" y2="880.9" stroke="#231f20" stroke-width="3" stroke-linecap="butt"/>
<text transform="translate(949.30,890.40) scale(0.960,1)" x="1.15" y="0" font-size="28" font-weight="bold" fill="#231f20" text-anchor="end">0</text>
<line x1="951.4" y1="780.6999999999999" x2="964.3" y2="780.6999999999999" stroke="#231f20" stroke-width="3" stroke-linecap="butt"/>
<text transform="translate(949.30,790.20) scale(0.960,1)" x="1.15" y="0" font-size="28" font-weight="bold" fill="#231f20" text-anchor="end">50</text>
<line x1="951.4" y1="680.5" x2="964.3" y2="680.5" stroke="#231f20" stroke-width="3" stroke-linecap="butt"/>
<text transform="translate(949.30,690.00) scale(0.960,1)" x="1.15" y="0" font-size="28" font-weight="bold" fill="#231f20" text-anchor="end">100</text>
<line x1="1008.6" y1="880.9" x2="1008.6" y2="892.9" stroke="#231f20" stroke-width="3" stroke-linecap="butt"/>
<line x1="1099.1" y1="880.9" x2="1099.1" y2="892.9" stroke="#231f20" stroke-width="3" stroke-linecap="butt"/>
<rect x="978.60" y="687.00" width="30.60" height="193.90" fill="#e0e0e0" stroke="#231f20" stroke-width="3.2"/>
<rect x="1009.20" y="683.40" width="29.90" height="197.50" fill="#828282" stroke="#231f20" stroke-width="3.2"/>
<rect x="1069.60" y="784.50" width="29.60" height="96.40" fill="#e0e0e0" stroke="#231f20" stroke-width="3.2"/>
<rect x="1099.20" y="704.30" width="30.20" height="176.60" fill="#828282" stroke="#231f20" stroke-width="3.2"/>
<line x1="993.8" y1="686.4" x2="993.8" y2="682.5" stroke="#231f20" stroke-width="3" stroke-linecap="butt"/>
<line x1="985.0" y1="682.5" x2="1002.5999999999999" y2="682.5" stroke="#231f20" stroke-width="3" stroke-linecap="butt"/>
<line x1="1024" y1="682.8" x2="1024" y2="680.8" stroke="#231f20" stroke-width="3" stroke-linecap="butt"/>
<line x1="1015.0" y1="680.8" x2="1033.0" y2="680.8" stroke="#231f20" stroke-width="3" stroke-linecap="butt"/>
<line x1="1084.2" y1="783.9" x2="1084.2" y2="774.6" stroke="#231f20" stroke-width="3" stroke-linecap="butt"/>
<line x1="1075.3" y1="774.6" x2="1093.1000000000001" y2="774.6" stroke="#231f20" stroke-width="3" stroke-linecap="butt"/>
<line x1="1114.5" y1="703.7" x2="1114.5" y2="695.3" stroke="#231f20" stroke-width="3" stroke-linecap="butt"/>
<line x1="1106.0" y1="695.3" x2="1123.0" y2="695.3" stroke="#231f20" stroke-width="3" stroke-linecap="butt"/>
<rect x="1137.90" y="603.90" width="38.80" height="15.00" fill="#e0e0e0" stroke="#231f20" stroke-width="3.2" rx="1"/>
<rect x="1137.90" y="635.80" width="38.80" height="14.20" fill="#828282" stroke="#231f20" stroke-width="3.2" rx="1"/>
<text class="r" x="1199.02" y="620.80" font-size="26" font-weight="normal" fill="#231f20" dx="0 0.6 1.0 1.2">T(-)</text>
<text class="r" x="1199.02" y="651.60" font-size="26" font-weight="normal" fill="#231f20" dx="0 0.5 0.5 0">T(+)</text>
<text transform="translate(888.40,869.40) rotate(-90) scale(0.940,1)" x="-1.27" y="0" font-size="31" font-weight="bold" fill="#231f20">Cell viability</text>
<text transform="translate(888.40,698.40) rotate(-90) scale(0.900,1)" x="-1.89" y="0" font-size="30.5" font-weight="normal" fill="#231f20" stroke="#231f20" stroke-width="0.6">(</text>
<text transform="translate(888.40,682.50) rotate(-90) scale(0.700,1)" x="-1.18" y="0" font-size="33" font-weight="normal" fill="#231f20" stroke="#231f20" stroke-width="0.6">%</text>
<text transform="translate(888.40,658.40) rotate(-90) scale(0.900,1)" x="-0.18" y="0" font-size="30.5" font-weight="normal" fill="#231f20" stroke="#231f20" stroke-width="0.6">)</text>
<text transform="translate(1019.60,919.81) rotate(-45)" x="-44.77" y="0" font-size="29" font-weight="bold" fill="#231f20">WT</text>
<text transform="translate(1107.90,921.38) rotate(-45)" x="-85.16" y="0" font-size="27.7" font-weight="bold" fill="#231f20">G860S</text>
<text x="162.79" y="688.97" font-size="31.5" font-weight="normal" fill="#231f20" stroke="#231f20" stroke-width="0.7" stroke-linejoin="round">*</text>
<text x="254.48" y="770.32" font-size="32" font-weight="normal" fill="#231f20" stroke="#231f20" stroke-width="0.7" stroke-linejoin="round">*</text>
<text x="673.02" y="649.14" font-size="30" font-weight="normal" fill="#231f20" stroke="#231f20" stroke-width="0.7" stroke-linejoin="round">*</text>
<text x="1111.17" y="682.03" font-size="39" font-weight="normal" fill="#231f20" stroke="#231f20" stroke-width="0.9" stroke-linejoin="round">*</text>
<text x="588.30" y="624.33" font-size="23" font-weight="normal" fill="#231f20" stroke="#231f20" stroke-width="0.6" stroke-linejoin="round">#</text>
<text x="1019.50" y="646.93" font-size="23" font-weight="normal" fill="#231f20" stroke="#231f20" stroke-width="0.6" stroke-linejoin="round">#</text>
</svg>
</body></html>
